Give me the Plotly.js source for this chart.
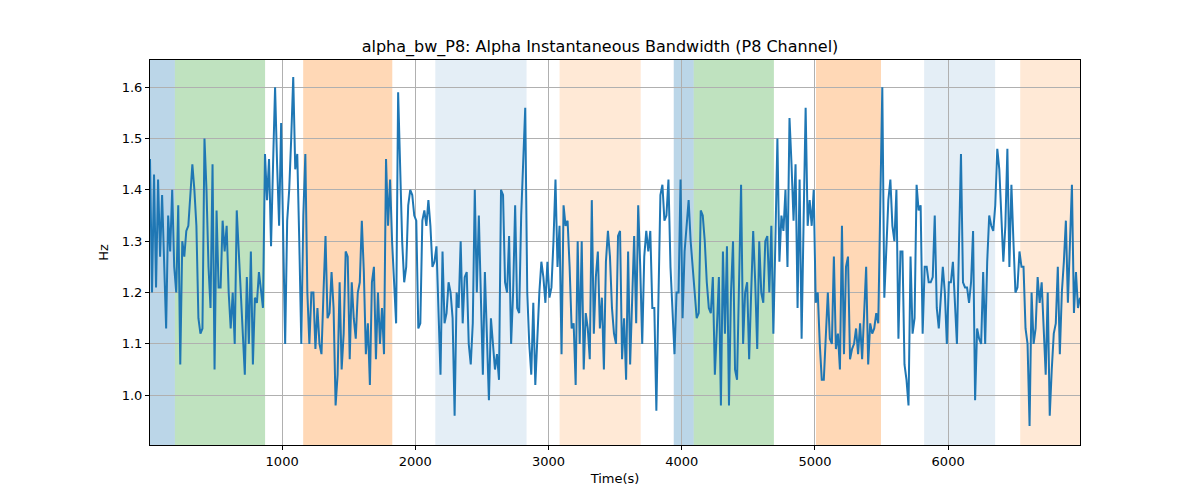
<!DOCTYPE html>
<html>
<head>
<meta charset="utf-8">
<script src="https://cdn.plot.ly/plotly-3.0.1.min.js"></script>
<style>body{margin:0;background:#fff}#chart{width:1200px;height:500px}</style>
</head>
<body>
<div id="chart"></div>
<script>
// alpha bandwidth samples (uniformly spaced in time)
const seg1 = [1.46,1.2,1.43,1.21,1.42,1.27,1.39,1.25,1.13,1.35,1.28,1.4,1.25,1.2,1.37,1.06,1.3,1.27,1.32,1.33,1.4,1.45,1.4,1.33,1.15,1.12,1.13,1.5,1.4,1.25,1.17,1.45,1.05,1.36,1.21,1.21,1.34,1.28,1.33,1.2,1.13,1.2,1.1,1.36,1.28,1.2,1.1,1.04,1.23,1.1,1.28,1.06,1.19,1.18,1.24,1.2,1.17,1.47,1.38,1.46,1.29,1.45,1.6,1.45,1.33,1.53,1.3,1.1,1.34,1.4,1.5,1.62,1.44,1.47,1.3,1.1,1.35,1.47,1.2,1.1,1.2,1.2,1.09,1.17,1.1,1.08,1.2,1.31,1.15,1.16,1.24,1.17,0.98,1.04,1.22,1.05,1.12,1.28,1.27,1.07,1.22,1.15,1.11,1.2,1.22,1.34,1.24,1.08,1.14,1.02,1.22,1.25,1.07,1.2,1.1];
const seg2 = [1.17,1.08,1.46,1.33,1.42,1.3,1.22,1.14,1.59,1.44,1.3,1.22,1.25,1.37,1.4,1.39,1.35,1.34,1.13,1.14,1.34,1.36,1.33,1.38,1.33,1.25,1.26,1.29,1.15,1.04,1.28,1.14,1.16,1.22,1.2,1.15,0.96,1.2,1.17,1.3,1.14,1.23,1.24,1.1,1.06,1.14,1.4,1.2,1.35,1.17,1.04,1.24,1.1,0.99,1.15,1.1,1.05,1.08,1.03,1.4,1.39,1.22,1.2,1.31,1.1,1.2,1.37,1.17,1.16,1.35,1.45,1.56,1.2,1.1,1.04,1.18,1.02,1.12,1.2,1.26,1.23,1.18,1.26,1.19,1.21,1.3,1.42,1.25,1.33,1.08,1.37,1.33,1.34,1.25,1.13,1.14,1.02,1.3,1.1,1.3,1.05,1.16,1.13,1.07,1.38,1.12,1.23,1.28,1.13,1.19,1.05,1.26,1.32,1.27,1.17,1.12];
const seg3 = [1.1,1.31,1.32,1.07,1.15,1.03,1.28,1.06,1.2,1.31,1.14,1.37,1.25,1.1,1.27,1.32,1.28,1.32,1.17,1.17,0.97,1.2,1.39,1.41,1.34,1.35,1.42,1.25,1.17,1.08,1.2,1.2,1.42,1.15,1.28,1.33,1.38,1.3,1.24,1.2,1.15,1.16,1.36,1.35,1.3,1.22,1.17,1.16,1.23,1.04,1.13,1.23,0.98,1.28,1.12,1.29,0.98,1.2,1.3,1.05,1.03,1.22,1.41,1.1,1.2,1.22,1.07,1.2,1.32,1.22,1.09,1.3,1.2,1.18,1.3,1.31,1.2,1.33,1.12,1.3,1.5,1.26,1.35,1.32,1.4,1.25,1.54,1.45,1.34,1.45,1.17,1.42,1.11,1.34,1.56,1.33,1.38,1.33,1.4,1.18,1.2,1.1,1.03,1.03,1.12,1.2,1.11,1.1,1.27,1.09,1.12,1.05,1.33,1.08,1.25,1.27,1.07,1.09];
const seg4 = [1.1,1.13,1.08,1.14,1.07,1.17,1.25,1.06,1.14,1.12,1.13,1.16,1.14,1.37,1.6,1.19,1.3,1.38,1.42,1.33,1.3,1.4,1.11,1.28,1.28,1.06,1.03,0.98,1.27,1.12,1.15,1.41,1.36,1.37,1.12,1.25,1.25,1.22,1.22,1.23,1.35,1.17,1.13,1.2,1.25,1.2,1.1,1.22,1.22,1.26,1.18,1.1,1.29,1.47,1.22,1.21,1.21,1.18,1.22,1.32,0.99,1.13,1.11,1.1,1.24,1.1,1.26,1.35,1.33,1.32,1.37,1.48,1.44,1.36,1.26,1.33,1.48,1.25,1.41,1.3,1.2,1.21,1.28,1.25,1.25,1.13,1.1,0.94,1.2,1.1,1.13,1.23,1.18,1.22,1.11,1.04,1.2,0.96,1.05,1.12,1.14,1.25,1.08,1.2,1.26,1.34,1.18,1.28,1.41,1.16,1.24,1.17,1.19];
const bandwidth = seg1.concat(seg2, seg3, seg4);
const tStart = 8, tEnd = 6990;

// shaded intervals: [start, end, colour, opacity]
const bandStarts = [8, 195, 1158, 2150, 3083, 3940, 4090, 5008, 5820, 6541];
const bandEnds   = [195, 872, 1827, 2835, 3692, 4090, 4692, 5496, 6353, 6990];
const bandColors = ['#1f77b4','#2ca02c','#ff7f0e','#1f77b4','#ff7f0e','#1f77b4','#2ca02c','#ff7f0e','#1f77b4','#ff7f0e'];
const bandAlphas = [0.3, 0.3, 0.3, 0.12, 0.17, 0.3, 0.3, 0.3, 0.12, 0.17];

const dt = (tEnd - tStart) / (bandwidth.length - 1);
const times = bandwidth.map((_, i) => tStart + i * dt);

const shapes = bandStarts.map((s, i) => ({
  type: 'rect', xref: 'x', yref: 'paper', layer: 'below',
  x0: s, x1: bandEnds[i], y0: 0, y1: 1,
  fillcolor: bandColors[i], opacity: bandAlphas[i], line: { width: 0 },
}));

const axisCommon = {
  showline: true, mirror: true, linecolor: '#000', linewidth: 1,
  ticks: 'outside', ticklen: 4, tickcolor: '#000',
  showgrid: true, gridcolor: '#b0b0b0', gridwidth: 1, zeroline: false,
  tickfont: { size: 13, family: 'DejaVu Sans', color: '#000' },
};

Plotly.newPlot('chart', [{
  x: times, y: bandwidth, type: 'scatter', mode: 'lines',
  line: { color: '#1f77b4', width: 2 },
}], {
  width: 1200, height: 500,
  margin: { l: 150, r: 120, t: 60, b: 55 },
  paper_bgcolor: '#fff', plot_bgcolor: 'rgba(0,0,0,0)',
  showlegend: false,
  title: { text: 'alpha_bw_P8: Alpha Instantaneous Bandwidth (P8 Channel)', x: 0.5, y: 0.908, yanchor: 'middle',
    font: { size: 16, family: 'DejaVu Sans', color: '#000' } },
  xaxis: Object.assign({}, axisCommon, { range: [tStart, tEnd], tickvals: [1000,2000,3000,4000,5000,6000],
    title: { text: 'Time(s)', font: { size: 13, family: 'DejaVu Sans', color: '#000' }, standoff: 6 } }),
  yaxis: Object.assign({}, axisCommon, { range: [0.903, 1.653], tickvals: [1.0,1.1,1.2,1.3,1.4,1.5,1.6], tickformat: '.1f',
    title: { text: 'Hz', font: { size: 13, family: 'DejaVu Sans', color: '#000' }, standoff: 10 } }),
  shapes,
}, { displayModeBar: false, staticPlot: true });
</script>
</body>
</html>
